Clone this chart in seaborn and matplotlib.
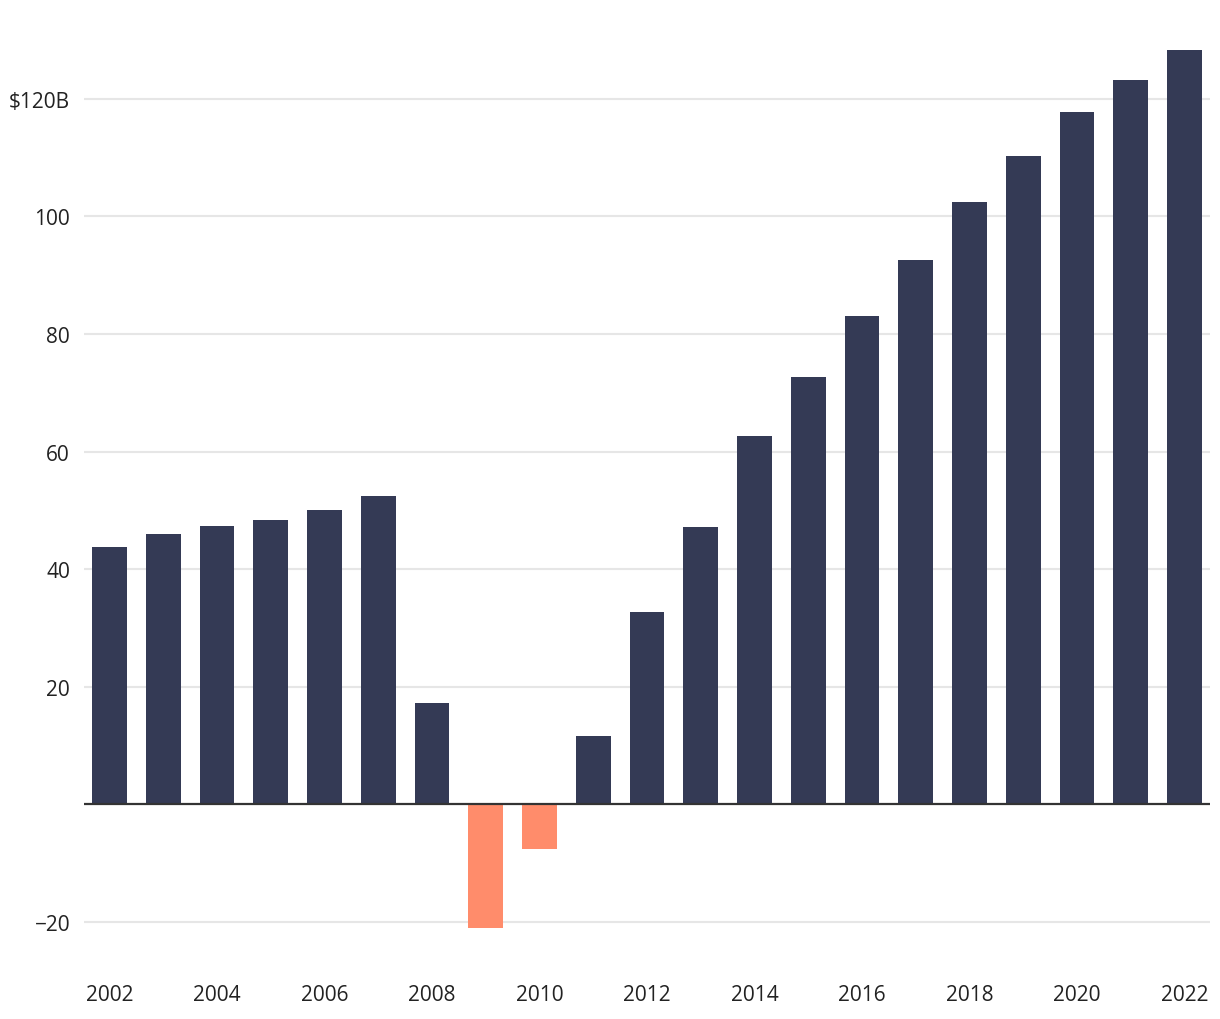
import matplotlib
matplotlib.use("Agg")
import matplotlib.pyplot as plt
import seaborn as sns
import pandas as pd

years = list(range(2002, 2023))
values = [43.7, 45.9, 47.4, 48.4, 50.1, 52.4, 17.2, -21.0, -7.6, 11.7, 32.8,
          47.1, 62.7, 72.6, 83.1, 92.6, 102.5, 110.3, 117.8, 123.1, 128.2]
ytick_vals = [-20, 20, 40, 60, 80, 100, 120]
ytick_labels = ["\u221220", "20", "40", "60", "80", "100", "$120B"]

df = pd.DataFrame({"year": [str(y) for y in years], "value": values})
df["sign"] = ["neg" if v < 0 else "pos" for v in values]

sns.set_theme(style="white")
plt.rcParams["font.family"] = ["Open Sans", "DejaVu Sans"]

fig = plt.figure(figsize=(12.2, 10.2), dpi=100)
ax = fig.add_axes([84 / 1220, 0.0546, (1210 - 84) / 1220, 0.9716 - 0.0546])

sns.barplot(data=df, x="year", y="value", hue="sign",
            palette={"pos": "#343a55", "neg": "#ff8c6b"},
            dodge=False, width=0.65, saturation=1, legend=False, ax=ax,
            zorder=2, linewidth=0, edgecolor="none")

ax.set_ylim(-27, 132)
ax.set_xlim(-0.475, len(years) - 0.525)
ax.set_yticks(ytick_vals)
ax.set_yticklabels(ytick_labels)
ax.set_xticks(range(0, len(years), 2))
ax.set_xticklabels([str(y) for y in years[::2]])
ax.yaxis.grid(True, color="#e6e6e6", linewidth=1.5, zorder=0)
ax.set_axisbelow(True)
ax.axhline(0, color="#333333", linewidth=1.6, zorder=3)
for s in ax.spines.values():
    s.set_visible(False)
ax.tick_params(axis="both", length=0, labelsize=15, labelcolor="#222222")
ax.tick_params(axis="y", pad=10)
ax.tick_params(axis="x", pad=15)
ax.set_xlabel("")
ax.set_ylabel("")

fig.savefig("out.png", dpi=100)
